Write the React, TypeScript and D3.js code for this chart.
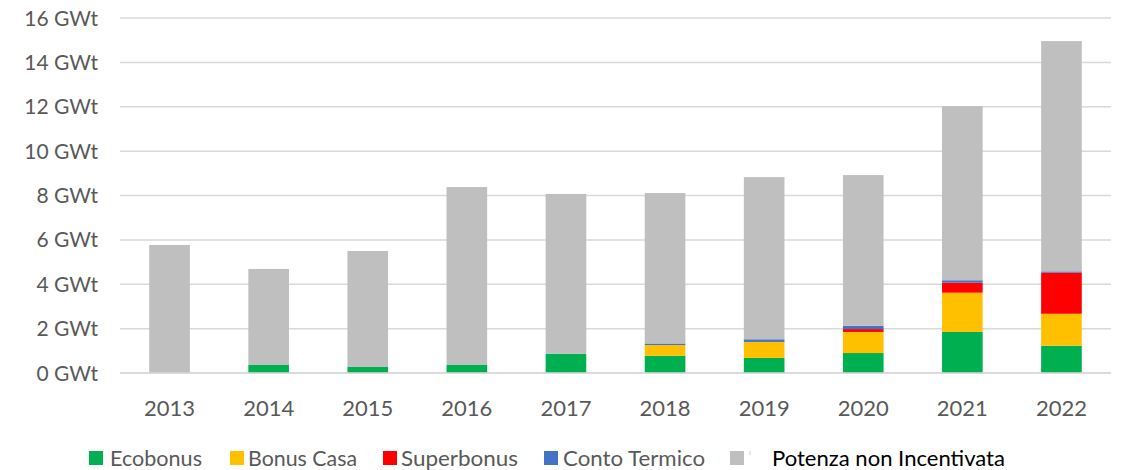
import { useEffect, useRef } from 'react';
import * as d3 from 'd3';

const years = ['2013', '2014', '2015', '2016', '2017', '2018', '2019', '2020', '2021', '2022'];
const ecobonus = [0.02, 0.36, 0.27, 0.36, 0.86, 0.78, 0.68, 0.9, 1.85, 1.23];
const bonusCasa = [0, 0, 0, 0, 0, 0.48, 0.72, 0.95, 1.77, 1.44];
const superbonus = [0, 0, 0, 0, 0, 0, 0, 0.13, 0.45, 1.85];
const contoTermico = [0, 0, 0, 0, 0, 0.07, 0.12, 0.15, 0.11, 0.06];
const nonIncentivata = [5.75, 4.33, 5.23, 8.02, 7.21, 6.78, 7.31, 6.79, 7.85, 10.38];
const yTicks = [0, 2, 4, 6, 8, 10, 12, 14, 16];

const seriesNames = ['Ecobonus', 'Bonus Casa', 'Superbonus', 'Conto Termico', 'Potenza non Incentivata'];
const seriesColors = ['#00b050', '#ffc000', '#ff0000', '#4472c4', '#bfbfbf'];

const App = () => {
    const chartRef = useRef<SVGSVGElement>(null);

    useEffect(() => {
        const svg = d3.select(chartRef.current);
        svg.selectAll('*').remove();
        const font = 'Lato, "Open Sans", sans-serif';

        const table = years.map((y, i) => ({
            year: y,
            s0: ecobonus[i],
            s1: bonusCasa[i],
            s2: superbonus[i],
            s3: contoTermico[i],
            s4: nonIncentivata[i],
        }));

        const x = d3.scaleBand()
            .domain(years)
            .range([120, 1111])
            .paddingInner(0.59)
            .paddingOuter(0.295);

        const y = d3.scaleLinear()
            .domain([0, 16])
            .range([373, 18]);

        // grid
        svg.append('g')
            .selectAll('line')
            .data(yTicks)
            .enter()
            .append('line')
            .attr('x1', 120)
            .attr('x2', 1111)
            .attr('y1', d => y(d))
            .attr('y2', d => y(d))
            .attr('stroke', '#d9d9d9')
            .attr('stroke-width', 1.5);

        svg.append('g')
            .selectAll('text')
            .data(yTicks)
            .enter()
            .append('text')
            .attr('x', 98)
            .attr('y', d => y(d))
            .attr('dy', '0.36em')
            .attr('text-anchor', 'end')
            .attr('font-family', font)
            .attr('font-size', 21)
            .attr('fill', '#595959')
            .text(d => `${d} GWt`);

        const stack = d3.stack<any>().keys(['s0', 's1', 's2', 's3', 's4']);
        const layers = stack(table);

        svg.append('g')
            .selectAll('g')
            .data(layers)
            .enter()
            .append('g')
            .attr('fill', (_, i) => seriesColors[i])
            .selectAll('rect')
            .data(d => d.filter(p => p[1] - p[0] > 0))
            .enter()
            .append('rect')
            .attr('x', d => x(d.data.year)!)
            .attr('y', d => y(d[1]))
            .attr('width', x.bandwidth())
            .attr('height', d => y(d[0]) - y(d[1]));

        // x axis line
        svg.append('line')
            .attr('x1', 120)
            .attr('x2', 1111)
            .attr('y1', y(0))
            .attr('y2', y(0))
            .attr('stroke', '#d9d9d9')
            .attr('stroke-width', 1.5);

        svg.append('g')
            .selectAll('text')
            .data(years)
            .enter()
            .append('text')
            .attr('x', d => x(d)! + x.bandwidth() / 2)
            .attr('y', 416)
            .attr('text-anchor', 'middle')
            .attr('font-family', font)
            .attr('font-size', 22)
            .attr('fill', '#595959')
            .text(d => d);

        // legend
        const legendX = [89, 230, 383, 544, 730];
        const legendTextX = [110, 248, 401, 563, 772];
        const legendTextW = [92, 109, 117, 142, 233];
        const legend = svg.append('g');
        seriesNames.forEach((name, i) => {
            legend.append('rect')
                .attr('x', legendX[i])
                .attr('y', 451)
                .attr('width', 14)
                .attr('height', 14)
                .attr('fill', seriesColors[i]);
            legend.append('text')
                .attr('x', legendTextX[i])
                .attr('y', 466)
                .attr('font-family', font)
                .attr('font-size', 22)
                .attr('textLength', legendTextW[i])
                .attr('lengthAdjust', 'spacingAndGlyphs')
                .attr('fill', i === 4 ? '#000000' : '#595959')
                .text(name);
        });
        legend.append('line')
            .attr('x1', 750)
            .attr('x2', 750)
            .attr('y1', 451)
            .attr('y2', 455)
            .attr('stroke', '#d0d0d0')
            .attr('stroke-width', 1);
    }, []);

    return (
        <svg ref={chartRef} width={1125} height={470}
            style={{ position: 'absolute', left: 0, top: 0, background: '#fff' }} />
    );
};

export default App;
